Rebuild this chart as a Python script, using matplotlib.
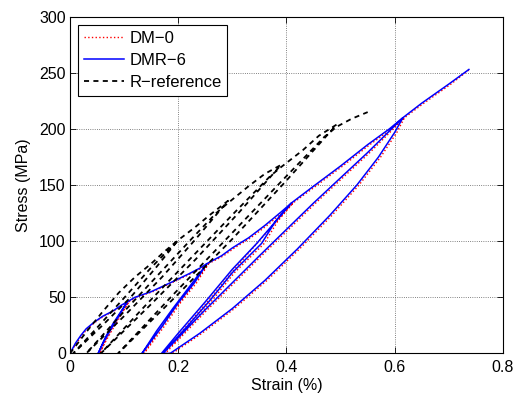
import numpy as np
import matplotlib.pyplot as plt

plt.rcParams['font.family'] = ['Liberation Sans', 'DejaVu Sans']

# DM-0 (red dotted) : strain (%), stress (MPa)
dm0_strain = [0, 0.012, 0.022, 0.032, 0.047, 0.062, 0.082, 0.097, 0.109,
              0.093, 0.078, 0.065, 0.055,
              0.068, 0.083, 0.098, 0.109,
              0.123, 0.153, 0.193, 0.223, 0.243, 0.256,
              0.234, 0.204, 0.174, 0.154, 0.137,
              0.164, 0.194, 0.224, 0.256,
              0.284, 0.304, 0.334, 0.364, 0.394, 0.412,
              0.384, 0.359, 0.304, 0.264, 0.224, 0.194, 0.172,
              0.204, 0.254, 0.304, 0.349, 0.412,
              0.454, 0.504, 0.554, 0.594, 0.618,
              0.604, 0.574, 0.534, 0.484, 0.424, 0.364, 0.304, 0.244, 0.189,
              0.176, 0.254, 0.354, 0.454, 0.554, 0.618,
              0.654, 0.704, 0.738]
dm0_stress = [0, 9, 16, 22, 28, 33, 38, 43, 46,
              33, 21, 10, 0,
              14, 27, 38, 46,
              50, 55, 64, 71, 76, 80,
              63, 45, 24, 11, 0,
              20, 40, 59, 80,
              87, 94, 103, 114, 126, 134,
              118, 98, 72, 48, 26, 10, 0,
              18, 46, 75, 100, 134,
              149, 167, 186, 200, 210,
              197, 175, 150, 123, 93, 65, 40, 18, 0,
              0, 39, 87, 134, 179, 210,
              223, 240, 253]

# DMR-6 (blue solid)
dmr6_strain = [0, 0.01, 0.02, 0.03, 0.045, 0.06, 0.08, 0.095, 0.106,
               0.09, 0.075, 0.062, 0.052,
               0.065, 0.08, 0.095, 0.106,
               0.12, 0.15, 0.19, 0.22, 0.24, 0.253,
               0.23, 0.2, 0.17, 0.15, 0.133,
               0.16, 0.19, 0.22, 0.253,
               0.28, 0.3, 0.33, 0.36, 0.39, 0.409,
               0.38, 0.354, 0.3, 0.26, 0.22, 0.19, 0.169,
               0.2, 0.25, 0.3, 0.345, 0.409,
               0.45, 0.5, 0.55, 0.59, 0.615,
               0.6, 0.57, 0.53, 0.48, 0.42, 0.36, 0.3, 0.24, 0.185,
               0.172, 0.25, 0.35, 0.45, 0.55, 0.615,
               0.65, 0.7, 0.737]
dmr6_stress = [0, 9, 16, 22, 28, 33, 38, 43, 46,
               33, 21, 10, 0,
               14, 27, 38, 46,
               50, 55, 64, 71, 76, 80,
               63, 45, 24, 11, 0,
               20, 40, 59, 80,
               87, 94, 103, 114, 126, 134,
               118, 98, 72, 48, 26, 10, 0,
               18, 46, 75, 98, 134,
               149, 167, 186, 200, 210,
               197, 175, 150, 123, 93, 65, 40, 18, 0,
               0, 39, 87, 134, 179, 210,
               223, 240, 253]

# R-reference (black dashed)
ref_strain = [0, 0.03, 0.06, 0.09, 0.12, 0.15, 0.175, 0.2,
              0.158, 0.112, 0.06, 0.006,
              0.054, 0.101, 0.149, 0.19, 0.2, 0.23, 0.26, 0.292,
              0.2325, 0.17, 0.1015, 0.03,
              0.0935, 0.159, 0.2245, 0.27, 0.292, 0.33, 0.36, 0.39,
              0.313, 0.2325, 0.146, 0.057,
              0.138, 0.2215, 0.305, 0.37, 0.39, 0.43, 0.46, 0.493,
              0.398, 0.3, 0.196, 0.089,
              0.188, 0.289, 0.39, 0.47, 0.493, 0.52, 0.55]
ref_stress = [0, 19, 37, 54, 68, 80, 91, 101,
              76, 50, 25, 0,
              25, 50, 76, 96, 101, 112, 124, 136,
              102, 68, 34, 0,
              34, 68, 102, 125, 134, 149, 160, 168,
              126, 84, 42, 0,
              42, 84, 126, 158, 166, 181, 194, 204,
              153, 102, 51, 0,
              51, 102, 153, 193, 202, 209, 215]

fig = plt.figure(figsize=(5.2, 3.94), dpi=100)
ax = fig.add_axes([0.1346, 0.103, 0.8327, 0.8546])

ax.plot(dm0_strain, dm0_stress, color='red', linestyle=':', lw=1.0, label='DM\u22120')
ax.plot(dmr6_strain, dmr6_stress, color='blue', linestyle='-', lw=1.1, label='DMR\u22126')
ax.plot(ref_strain, ref_stress, color='black', linestyle=(0, (2.8, 2.4)), lw=1.3,
        label='R\u2212reference')

ax.set_xlim(0, 0.8)
ax.set_ylim(0, 300)
ax.set_xticks(np.arange(0, 0.81, 0.2))
ax.set_xticklabels(['0', '0.2', '0.4', '0.6', '0.8'])
ax.set_yticks(np.arange(0, 301, 50))
ax.tick_params(direction='in', top=True, right=True, length=4, width=0.6,
               labelsize=11.5, colors='black')
ax.tick_params(axis='x', pad=5)
ax.tick_params(axis='y', pad=3)
ax.grid(True, linestyle=':', color='0.35', lw=0.6)
for s in ax.spines.values():
    s.set_linewidth(0.8)

ax.set_xlabel('Strain (%)', fontsize=11.5, labelpad=2)
ax.set_ylabel('Stress (MPa)', fontsize=11.5, labelpad=6)

leg = ax.legend(loc='upper left', fontsize=12, frameon=True, fancybox=False,
                edgecolor='black', framealpha=1, handlelength=2.4,
                handletextpad=0.3, borderaxespad=0.5, borderpad=0.35,
                labelspacing=0.42)
leg.get_frame().set_linewidth(0.8)

fig.savefig('out.png', dpi=100)
